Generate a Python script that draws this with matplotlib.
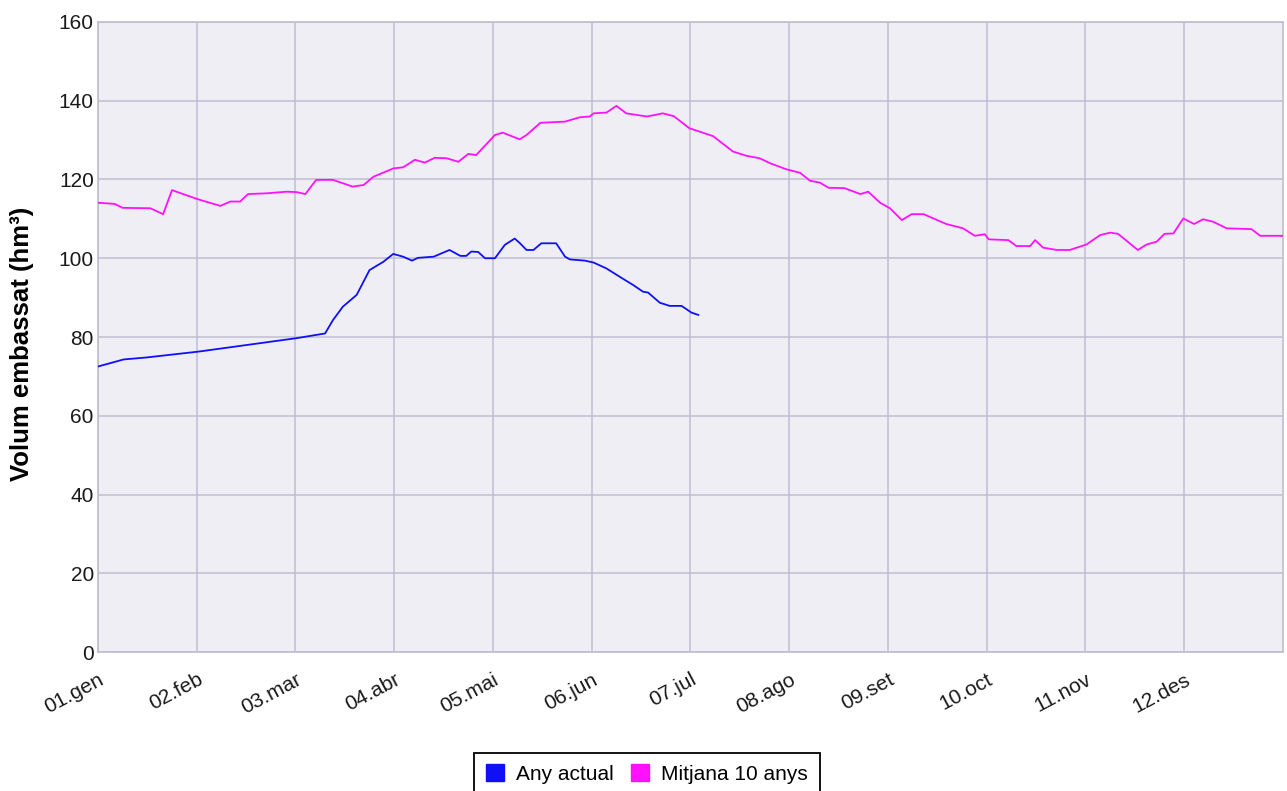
import matplotlib
matplotlib.use('Agg')
import matplotlib.pyplot as plt
from matplotlib.patches import Patch

plt.rcParams['font.family'] = ['Liberation Sans', 'DejaVu Sans']

# etiquetes dels mesos (eix x en mesos, 0 = 1 de gener)
mesos = ['01.gen', '02.feb', '03.mar', '04.abr', '05.mai', '06.jun',
         '07.jul', '08.ago', '09.set', '10.oct', '11.nov', '12.des']

# Any actual
mes_actual = [0.00, 0.26, 0.49, 1.02, 2.01, 2.30, 2.38, 2.48, 2.62, 2.75, 2.89,
              2.99, 3.09, 3.18, 3.24, 3.40, 3.56, 3.67, 3.73, 3.78, 3.85, 3.92,
              4.02, 4.12, 4.22, 4.27, 4.34, 4.41, 4.49, 4.64, 4.73, 4.78, 4.93,
              5.02, 5.15, 5.29, 5.42, 5.52, 5.57, 5.69, 5.79, 5.91, 6.01, 6.08]
vol_actual = [72.5, 74.3, 74.8, 76.3, 79.7, 80.9, 84.3, 87.7, 90.7, 97.0, 99.1,
              101.1, 100.4, 99.4, 100.1, 100.4, 102.1, 100.6, 100.6, 101.7, 101.6, 100.0,
              100.0, 103.4, 105.0, 103.9, 102.1, 102.1, 103.8, 103.8, 100.4, 99.7, 99.4,
              98.9, 97.4, 95.2, 93.2, 91.5, 91.3, 88.7, 87.9, 87.9, 86.2, 85.6]

# Mitjana 10 anys
mes_mitjana = [0.00, 0.17, 0.25, 0.53, 0.66, 0.75, 1.01, 1.24, 1.34, 1.44, 1.52,
               1.71, 1.91, 2.01, 2.10, 2.21, 2.38, 2.58, 2.69, 2.79, 2.99, 3.09,
               3.21, 3.31, 3.41, 3.53, 3.65, 3.75, 3.83, 4.02, 4.10, 4.27, 4.34,
               4.48, 4.73, 4.88, 4.98, 5.02, 5.15, 5.25, 5.35, 5.56, 5.72, 5.83,
               5.99, 6.10, 6.23, 6.43, 6.57, 6.70, 6.81, 6.97, 7.11, 7.21, 7.31,
               7.40, 7.56, 7.72, 7.80, 7.92, 8.02, 8.14, 8.24, 8.36, 8.59, 8.76,
               8.88, 8.98, 9.02, 9.22, 9.30, 9.44, 9.49, 9.57, 9.71, 9.84, 10.01,
               10.15, 10.25, 10.33, 10.53, 10.62, 10.72, 10.80, 10.89, 10.99, 11.10,
               11.19, 11.29, 11.43, 11.68, 11.77, 12.00]
vol_mitjana = [114.1, 113.8, 112.8, 112.7, 111.2, 117.3, 115.0, 113.3, 114.4, 114.4, 116.3,
               116.5, 116.9, 116.8, 116.3, 119.9, 119.9, 118.2, 118.6, 120.7, 122.8, 123.1,
               125.0, 124.3, 125.5, 125.4, 124.5, 126.5, 126.2, 131.3, 131.9, 130.2, 131.3,
               134.4, 134.7, 135.8, 136.0, 136.8, 137.0, 138.7, 136.8, 136.0, 136.8, 136.1,
               133.0, 132.1, 131.0, 127.1, 126.0, 125.4, 124.1, 122.6, 121.7, 119.7, 119.2,
               117.9, 117.8, 116.3, 116.9, 114.1, 112.7, 109.7, 111.2, 111.2, 108.7, 107.6,
               105.7, 106.1, 104.8, 104.6, 103.1, 103.1, 104.6, 102.7, 102.1, 102.1, 103.5,
               105.9, 106.5, 106.2, 102.1, 103.5, 104.2, 106.2, 106.3, 110.1, 108.7,
               109.9, 109.3, 107.6, 107.4, 105.7, 105.7]

color_actual = '#1010F8'
color_mitjana = '#FF10FF'
graella = '#BEBED2'

fig = plt.figure(figsize=(12.87, 7.91), dpi=100)
ax = fig.add_axes([0.0761, 0.1757, 0.9208, 0.7965])
ax.set_facecolor('#EFEEF4')

ax.plot(mes_mitjana, vol_mitjana, color=color_mitjana, lw=1.3, zorder=3)
ax.plot(mes_actual, vol_actual, color=color_actual, lw=1.3, zorder=3)

ax.set_xlim(0, 12)
ax.set_ylim(0, 160)
ax.set_xticks(range(12))
ax.set_xticklabels(mesos)
ax.set_yticks(range(0, 161, 20))
ax.grid(True, color=graella, lw=1.1)
ax.set_axisbelow(True)
for s in ax.spines.values():
    s.set_color(graella)
    s.set_linewidth(1.2)

ax.tick_params(axis='both', length=0, labelsize=15, colors='#1a1a1a')
ax.tick_params(axis='y', pad=3)
ax.tick_params(axis='x', pad=13)
plt.setp(ax.get_xticklabels(), rotation=28, ha='right', va='top', rotation_mode='anchor')

ax.set_ylabel('Volum embassat (hm³)', fontsize=18.5, fontweight='bold', va='center')
ax.yaxis.set_label_coords(-0.064, 0.489)

handles = [Patch(facecolor=color_actual, edgecolor=color_actual, label='Any actual'),
           Patch(facecolor=color_mitjana, edgecolor=color_mitjana, label='Mitjana 10 anys')]
leg = fig.legend(handles=handles, loc='upper center', bbox_to_anchor=(0.5027, 0.048),
                 borderaxespad=0, ncol=2, fontsize=15, frameon=True, fancybox=False,
                 framealpha=1, edgecolor='black', handlelength=0.87, handleheight=0.87,
                 handletextpad=0.6, columnspacing=0.8, borderpad=0.55)
leg.get_frame().set_linewidth(1.3)

fig.savefig('out.png', dpi=100)
